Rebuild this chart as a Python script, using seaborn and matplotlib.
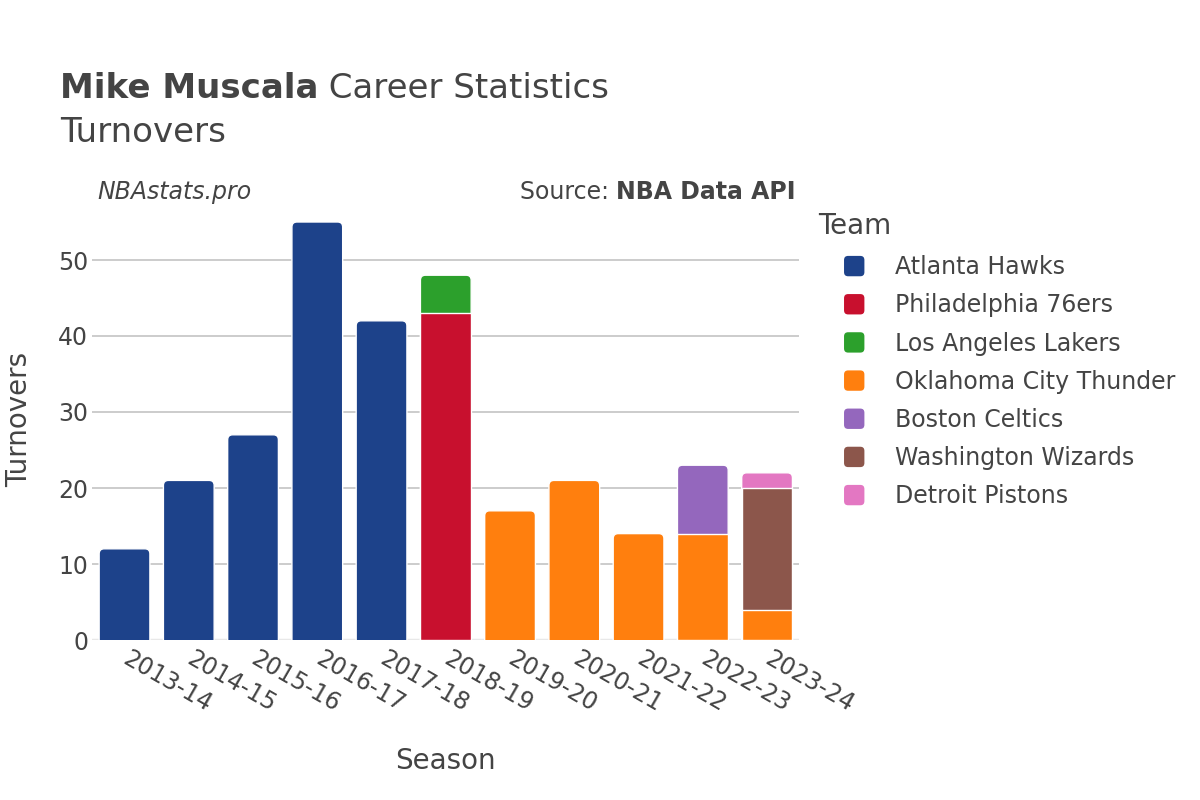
import matplotlib
matplotlib.use("Agg")
import matplotlib.pyplot as plt
import seaborn as sns
import numpy as np
import pandas as pd
from matplotlib.patches import Patch, FancyBboxPatch, Rectangle
from matplotlib.legend_handler import HandlerPatch

seasons = ["2013-14", "2014-15", "2015-16", "2016-17", "2017-18", "2018-19",
           "2019-20", "2020-21", "2021-22", "2022-23", "2023-24"]
teams = ["Atlanta Hawks", "Philadelphia 76ers", "Los Angeles Lakers",
         "Oklahoma City Thunder", "Boston Celtics", "Washington Wizards", "Detroit Pistons"]
colors = ["#1d428a", "#c8102e", "#2ca02c", "#ff7f0e", "#9467bd", "#8c564b", "#e377c2"]

atl = [12, 21, 27, 55, 42, 0, 0, 0, 0, 0, 0]
phi = [0, 0, 0, 0, 0, 43, 0, 0, 0, 0, 0]
lal = [0, 0, 0, 0, 0, 5, 0, 0, 0, 0, 0]
okc = [0, 0, 0, 0, 0, 0, 17, 21, 14, 14, 4]
bos = [0, 0, 0, 0, 0, 0, 0, 0, 0, 9, 0]
was = [0, 0, 0, 0, 0, 0, 0, 0, 0, 0, 16]
det = [0, 0, 0, 0, 0, 0, 0, 0, 0, 0, 2]
values = [atl, phi, lal, okc, bos, was, det]

sns.set_theme(style="white")
plt.rcParams['font.family'] = ['DejaVu Sans']
text_color = "#444444"

fig = plt.figure(figsize=(12, 8), dpi=100)
ax = fig.add_axes([0.077, 0.2, 0.589, 0.551])

vals = np.array(values, dtype=float)
cum = np.cumsum(vals, axis=0)
totals = cum[-1]

for k in range(len(teams) - 1, -1, -1):
    h = np.where(vals[k] > 0, cum[k], np.nan)
    df = pd.DataFrame({"Season": seasons, "Turnovers": h})
    sns.barplot(data=df, x="Season", y="Turnovers", order=seasons, color=colors[k],
                saturation=1, width=0.79, edgecolor="white", linewidth=1, ax=ax, zorder=3)

ymax = 58
ax.set_ylim(0, ymax)
ax.set_xlim(-0.5, len(seasons) - 0.5)

# round the top corners of the topmost segment of each bar
fig.canvas.draw()
bbox = ax.get_window_extent()
px_x = bbox.width / len(seasons)
px_y = bbox.height / ymax
r_px = 5
r_x = r_px / px_x
aspect = (r_px / px_y) / r_x
for p in list(ax.patches):
    if not isinstance(p, Rectangle):
        continue
    hgt = p.get_height()
    if not np.isfinite(hgt) or hgt <= 0:
        continue
    x0 = p.get_x()
    w = p.get_width()
    i = int(round(x0 + w / 2))
    if abs(hgt - totals[i]) < 1e-6:
        fb = FancyBboxPatch((x0, -3), w, hgt + 3,
                            boxstyle=f"round,pad=0,rounding_size={r_x}",
                            mutation_aspect=aspect, facecolor=p.get_facecolor(),
                            edgecolor="white", linewidth=1, zorder=2.8)
        p.remove()
        ax.add_patch(fb)

ax.set_yticks([0, 10, 20, 30, 40, 50])
ax.yaxis.grid(True, color="#c4c4c4", linewidth=1.2, zorder=0)
ax.axhline(0, color="#e8e8e8", linewidth=2.5, zorder=1.5)
for s in ax.spines.values():
    s.set_visible(False)
ax.tick_params(axis="both", length=0, labelsize=17, labelcolor=text_color)
ax.tick_params(axis="y", pad=3)
plt.setp(ax.get_xticklabels(), rotation=-30, ha="left", va="center", rotation_mode="anchor")
ax.tick_params(axis="x", pad=12)
ax.set_xlabel("Season", fontsize=20, color=text_color, labelpad=22)
ax.set_ylabel("Turnovers", fontsize=20, color=text_color, labelpad=18)

# Titles
t1 = fig.text(0.05, 0.89, "Mike Muscala", fontsize=24.5, fontweight="bold",
              color=text_color, va="center", ha="left")
ax.annotate(" Career Statistics", xy=(1, 0.5), xycoords=t1, va="center", ha="left",
            fontsize=24.5, color=text_color)
fig.text(0.05, 0.835, "Turnovers", fontsize=24.5, color=text_color, va="center", ha="left")

fig.text(0.081, 0.76, "NBAstats.pro", fontsize=17, style="italic", color=text_color,
         va="center", ha="left")
s2 = fig.text(0.663, 0.76, "NBA Data API", fontsize=17, fontweight="bold",
              color=text_color, va="center", ha="right")
ax.annotate("Source: ", xy=(0, 0.5), xycoords=s2, va="center", ha="right",
            fontsize=17, color=text_color)


class RoundHandler(HandlerPatch):
    def create_artists(self, legend, orig_handle, xdescent, ydescent, width, height,
                       fontsize, trans):
        s = min(width, height)
        p = FancyBboxPatch((-xdescent + (width - s) / 2, -ydescent + (height - s) / 2), s, s,
                           boxstyle=f"round,pad=0,rounding_size={s * 0.2}",
                           facecolor=orig_handle.get_facecolor(), edgecolor="none",
                           transform=trans)
        return [p]


fig.text(0.6817, 1 - 226 / 800, "Team", fontsize=20, color=text_color,
         va="center", ha="left")
handles = [Patch(facecolor=c, edgecolor="none") for c in colors]
leg = fig.legend(handles, teams, loc="upper left", bbox_to_anchor=(0.7025, 0.681),
                 frameon=False, fontsize=17,
                 handlelength=0.95, handleheight=0.95, handletextpad=1.25,
                 labelspacing=0.6, borderaxespad=0, borderpad=0,
                 handler_map={Patch: RoundHandler()})
for t in leg.get_texts():
    t.set_color(text_color)

fig.savefig("out.png", dpi=100, facecolor="white")
